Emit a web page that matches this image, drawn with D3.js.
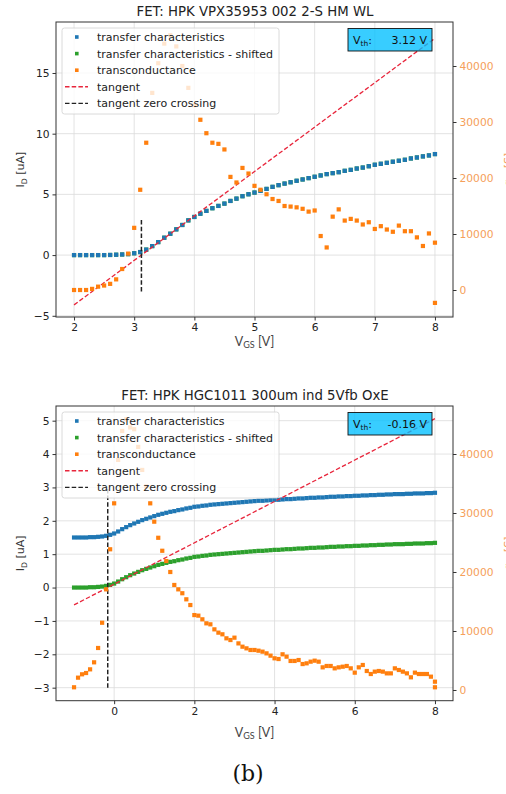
<!DOCTYPE html>
<meta charset="utf-8">
<style>
  body {
    margin: 0;
    background: #fff;
  }

  svg {
    display: block;
    font-family: "DejaVu Sans", Verdana, sans-serif;
  }

  .grid line {
    stroke: #dcdcdc;
    stroke-width: 0.8;
  }

  .frame {
    fill: none;
    stroke: #333;
    stroke-width: 1;
  }

  .legend text {
    font-size: 11px;
    fill: #222;
  }
</style>
<body>
<div id="chart"></div>
<script src="https://cdn.jsdelivr.net/npm/d3@7"></script>
<script>

var width = 506,
    height = 794;

var blue = "#1f77b4",
    green = "#2ca02c",
    orange = "#ff7f0e",
    red = "#e8263c";

// ---- top panel: HPK VPX35953 002 2-S HM WL (sweep 2 V .. 8 V, step 0.1 V)
var titleA = "FET: HPK VPX35953 002 2-S HM WL";
var vgsA = d3.range(20, 81).map(function(i) { return i / 10; });
var currentA = [
  0.00, 0.00, 0.00, 0.00, 0.00, 0.00, 0.01, 0.03, 0.05, 0.08,
  0.15, 0.25, 0.45, 0.74, 1.07, 1.43, 1.76, 2.12, 2.48, 2.86,
  3.14, 3.41, 3.64, 3.86, 4.05, 4.24, 4.46, 4.65, 4.85, 5.01,
  5.15, 5.29, 5.45, 5.62, 5.76, 5.89, 6.00, 6.12, 6.23, 6.34,
  6.45, 6.56, 6.67, 6.75, 6.83, 6.94, 7.02, 7.13, 7.21, 7.32,
  7.44, 7.52, 7.60, 7.69, 7.77, 7.85, 7.96, 8.04, 8.13, 8.21,
  8.32
];
// no offset on this sample: the shifted curve sits under the measured one
var shiftedA = currentA;
var gmVgsA = vgsA.concat([8.0]);
var gmA = [
  0, 0, 0, 200, 600, 800, 1100, 1900, 3750, 6500,
  11100, 17900, 26300, 35200, 40500, 44000, 45500, 43500, 40000, 36100,
  33000, 30400, 28000, 26300, 26100, 25100, 20200, 19200, 21800, 20800,
  18600, 17900, 17100, 16250, 15900, 15000, 14900, 14760, 14500, 14000,
  14200, 9640, 7600, 13100, 14400, 12400, 12700, 12400, 11700, 12100,
  10900, 11400, 10800, 10400, 11500, 10500, 10500, 9400, 7860, 10100,
  8450, -2300
];
var tangentVgsA = [2, 8];
var tangentA = [-4.1, 17.86];
var vthA = 3.12;
var zeroCrossA = [-3, 3];

// ---- bottom panel: HPK HGC1011 300um ind 5Vfb OxE (sweep -1 V .. 8 V, step 0.1 V)
var titleB = "FET: HPK HGC1011 300um ind 5Vfb OxE";
var vgsB = d3.range(-10, 81).map(function(i) { return i / 10; });
var currentB = [
  1.50, 1.50, 1.50, 1.50, 1.51, 1.51, 1.52, 1.53, 1.55, 1.58,
  1.62, 1.68, 1.75, 1.81, 1.87, 1.92, 1.97, 2.02, 2.06, 2.10,
  2.14, 2.18, 2.21, 2.24, 2.27, 2.29, 2.32, 2.34, 2.37, 2.39,
  2.42, 2.43, 2.45, 2.46, 2.48, 2.49, 2.50, 2.51, 2.52, 2.53,
  2.54, 2.55, 2.56, 2.57, 2.58, 2.59, 2.60, 2.60, 2.61, 2.62,
  2.63, 2.63, 2.64, 2.65, 2.65, 2.66, 2.67, 2.67, 2.68, 2.69,
  2.69, 2.70, 2.70, 2.71, 2.72, 2.72, 2.73, 2.73, 2.74, 2.74,
  2.75, 2.75, 2.76, 2.76, 2.77, 2.77, 2.78, 2.78, 2.79, 2.79,
  2.80, 2.80, 2.80, 2.81, 2.81, 2.82, 2.82, 2.82, 2.83, 2.83,
  2.84
];
var shiftedB = [
  0.00, 0.00, 0.00, 0.00, 0.01, 0.01, 0.02, 0.03, 0.05, 0.08,
  0.12, 0.18, 0.25, 0.31, 0.37, 0.42, 0.47, 0.52, 0.56, 0.60,
  0.64, 0.68, 0.71, 0.74, 0.77, 0.79, 0.82, 0.84, 0.87, 0.89,
  0.92, 0.93, 0.95, 0.96, 0.98, 0.99, 1.00, 1.01, 1.02, 1.03,
  1.04, 1.05, 1.06, 1.07, 1.08, 1.09, 1.10, 1.10, 1.11, 1.12,
  1.13, 1.13, 1.14, 1.15, 1.15, 1.16, 1.17, 1.17, 1.18, 1.19,
  1.19, 1.20, 1.20, 1.21, 1.22, 1.22, 1.23, 1.23, 1.24, 1.24,
  1.25, 1.25, 1.26, 1.26, 1.27, 1.27, 1.28, 1.28, 1.29, 1.29,
  1.30, 1.30, 1.30, 1.31, 1.31, 1.32, 1.32, 1.32, 1.33, 1.33,
  1.34
];
var gmVgsB = vgsB.concat([8.0]);
var gmB = [
  460, 2090, 2660, 2880, 3500, 4690, 7120, 11400, 17060, 23850,
  31640, 39000, 43900, 45870, 44500, 44200, 41200, 37300, 34500, 31640,
  28530, 25800, 23600, 21860, 20000, 17800, 17060, 16400, 15370, 14400,
  12700, 12600, 11980, 11300, 11130, 10280, 9720, 9440, 8760, 8470,
  8870, 7900, 7340, 7060, 6780, 6780, 6660, 6500, 6210, 5820,
  5370, 5250, 6050, 5650, 4920, 4920, 5080, 4400, 4520, 4800,
  4970, 4800, 3840, 4070, 4070, 3670, 3840, 3950, 4070, 3670,
  2940, 3840, 4240, 3220, 2710, 3110, 3220, 3110, 2820, 2820,
  3670, 3390, 3110, 2820, 2150, 2940, 2710, 2710, 2710, 2260,
  1410, 460
];
var tangentVgsB = [-1, 8];
var tangentB = [-0.52, 5.06];
var vthB = -0.16;
var zeroCrossB = [-3, 3];

var legendLabels = [
  "transfer characteristics",
  "transfer characteristics - shifted",
  "transconductance",
  "tangent",
  "tangent zero crossing"
];

var svg = d3.select("#chart").append("svg")
  .attr("width", width)
  .attr("height", height);

var left = 56, right = 453;

function pairs(xs, ys) {
  return xs.map(function(v, i) { return [v, ys[i]]; });
}

function drawPanel(p, id) {
  var x = d3.scaleLinear().domain(p.xDomain).range([left, right]);
  var y = d3.scaleLinear().domain(p.yDomain).range([p.bottom, p.top]);
  var y2 = d3.scaleLinear().domain(p.y2Domain).range([p.bottom, p.top]);

  var g = svg.append("g");

  svg.append("clipPath").attr("id", "clip" + id)
    .append("rect")
    .attr("x", left).attr("y", p.top)
    .attr("width", right - left).attr("height", p.bottom - p.top);

  // grid
  var grid = g.append("g").attr("class", "grid");
  grid.selectAll(".gx").data(p.xTicks).enter().append("line")
    .attr("x1", function(d) { return x(d); })
    .attr("x2", function(d) { return x(d); })
    .attr("y1", p.top).attr("y2", p.bottom);
  grid.selectAll(".gy").data(p.yTicks).enter().append("line")
    .attr("y1", function(d) { return y(d); })
    .attr("y2", function(d) { return y(d); })
    .attr("x1", left).attr("x2", right);

  var plot = g.append("g").attr("clip-path", "url(#clip" + id + ")");
  var s = 4.2;

  function squares(data, sc, color) {
    plot.append("g").selectAll("rect")
      .data(data).enter().append("rect")
      .attr("x", function(d) { return x(d[0]) - s / 2; })
      .attr("y", function(d) { return sc(d[1]) - s / 2; })
      .attr("width", s).attr("height", s)
      .attr("fill", color);
  }

  squares(pairs(p.vgs, p.shifted), y, green);
  squares(pairs(p.vgs, p.current), y, blue);

  var line = d3.line()
    .x(function(d) { return x(d[0]); })
    .y(function(d) { return y(d[1]); });

  plot.append("path")
    .datum(pairs(p.tangentVgs, p.tangent))
    .attr("d", line)
    .attr("fill", "none")
    .attr("stroke", red)
    .attr("stroke-width", 1.3)
    .attr("stroke-dasharray", "4.5,2.2");

  plot.append("path")
    .datum(pairs([p.vth, p.vth], p.zeroCross))
    .attr("d", line)
    .attr("fill", "none")
    .attr("stroke", "#222")
    .attr("stroke-width", 1.5)
    .attr("stroke-dasharray", "4.5,2.2");

  squares(pairs(p.gmVgs, p.gm), y2, orange);

  // frame and axes
  g.append("rect").attr("class", "frame")
    .attr("x", left).attr("y", p.top)
    .attr("width", right - left).attr("height", p.bottom - p.top);

  var ax = g.append("g")
    .attr("transform", "translate(0," + p.bottom + ")")
    .call(d3.axisBottom(x).tickValues(p.xTicks).tickSize(3.5).tickPadding(3).tickFormat(d3.format("d")));
  var ay = g.append("g")
    .attr("transform", "translate(" + left + ",0)")
    .call(d3.axisLeft(y).tickValues(p.yTicks).tickSize(3.5).tickPadding(3).tickFormat(d3.format("d")));
  var ay2 = g.append("g")
    .attr("transform", "translate(" + right + ",0)")
    .call(d3.axisRight(y2).tickValues(p.y2Ticks).tickSize(3.5).tickPadding(3).tickFormat(d3.format("d")));

  [ax, ay, ay2].forEach(function(a) {
    a.select(".domain").remove();
    a.selectAll(".tick line").attr("stroke", "#333");
    a.selectAll(".tick text").attr("fill", "#222")
      .style("font-family", "DejaVu Sans").style("font-size", "10.7px");
  });
  ay2.selectAll(".tick text").attr("fill", "#f5a05a");

  // titles and labels
  svg.append("text")
    .attr("x", (left + right) / 2 + 0.5).attr("y", p.top - 6.3)
    .attr("text-anchor", "middle")
    .style("font-size", "13.3px").attr("fill", "#222")
    .text(p.title);

  var yl = svg.append("text")
    .attr("transform", "translate(24," + (p.top + p.bottom) / 2 + ") rotate(-90)")
    .attr("text-anchor", "middle")
    .style("font-size", "11px").attr("fill", "#333");
  yl.append("tspan").text("I");
  yl.append("tspan").attr("dy", 2.5).style("font-size", "7.7px").text("D");
  yl.append("tspan").attr("dy", -2.5).text(" [uA]");

  var y2l = svg.append("text")
    .attr("transform", "translate(512," + (p.top + p.bottom) / 2 + ") rotate(-90)")
    .attr("text-anchor", "middle")
    .style("font-size", "11px").attr("fill", "#f5a05a");
  y2l.append("tspan").text("g");
  y2l.append("tspan").attr("dy", 2.5).style("font-size", "7.7px").text("m");
  y2l.append("tspan").attr("dy", -2.5).text(" [S]");

  var xl = svg.append("text")
    .attr("x", (left + right) / 2).attr("y", p.xLabelY)
    .attr("text-anchor", "middle")
    .style("font-family", "Lato, 'Open Sans', sans-serif")
    .style("font-size", "12.5px").attr("fill", "#444");
  xl.append("tspan").text("V");
  xl.append("tspan").style("font-size", "9px").attr("dy", 1.5).text("GS");
  xl.append("tspan").attr("dy", -1.5).text(" [V]");

  // legend
  var lg = svg.append("g").attr("class", "legend");
  lg.append("rect")
    .attr("x", 62).attr("y", p.top + 6)
    .attr("width", 217).attr("height", 86)
    .attr("rx", 2.5)
    .attr("fill", "#fff").attr("fill-opacity", 0.8)
    .attr("stroke", "#d0d0d0").attr("stroke-width", 0.8);

  var kinds = [
    { color: blue, mark: true },
    { color: green, mark: true },
    { color: orange, mark: true },
    { color: red, mark: false },
    { color: "#222", mark: false }
  ];
  var row = lg.selectAll(".row").data(legendLabels).enter().append("g")
    .attr("transform", function(d, i) { return "translate(0," + (p.top + 15 + i * 16.6) + ")"; });
  row.each(function(d, i) {
    var r = d3.select(this);
    if (kinds[i].mark) {
      r.append("rect").attr("x", 75).attr("y", -1.8).attr("width", 3.6).attr("height", 3.6)
        .attr("fill", kinds[i].color);
    } else {
      r.append("line").attr("x1", 65).attr("x2", 88).attr("y1", 0).attr("y2", 0)
        .attr("stroke", kinds[i].color).attr("stroke-width", 1.4)
        .attr("stroke-dasharray", "4.5,2.2");
    }
  });
  row.append("text").attr("x", 97).attr("y", 4).text(function(d) { return d; });

  // threshold box
  var bx = svg.append("g");
  bx.append("rect")
    .attr("x", 348).attr("y", p.top + 6.5)
    .attr("width", 84).attr("height", 22.5)
    .attr("fill", "#00bfff").attr("fill-opacity", 0.78)
    .attr("stroke", "#111").attr("stroke-width", 0.9);
  var vt = bx.append("text").attr("x", 353).attr("y", p.top + 22)
    .style("font-size", "11px").attr("fill", "#111");
  vt.append("tspan").text("V");
  vt.append("tspan").attr("dy", 2).style("font-size", "7.5px").text("th");
  vt.append("tspan").attr("dy", -2).text(":");
  bx.append("text").attr("x", 427).attr("y", p.top + 22)
    .attr("text-anchor", "end")
    .style("font-size", "11px").attr("fill", "#111")
    .text(d3.format(".2f")(p.vth).replace("\u2212", "-") + " V");
}

drawPanel({
  title: titleA,
  top: 22, bottom: 317, xLabelY: 346,
  xDomain: [1.7, 8.3], yDomain: [-5.1, 19.2], y2Domain: [-4820, 47860],
  xTicks: [2, 3, 4, 5, 6, 7, 8], yTicks: [-5, 0, 5, 10, 15], y2Ticks: [0, 10000, 20000, 30000, 40000],
  vgs: vgsA, current: currentA, shifted: shiftedA,
  gmVgs: gmVgsA, gm: gmA,
  tangentVgs: tangentVgsA, tangent: tangentA,
  vth: vthA, zeroCross: zeroCrossA
}, "a");

drawPanel({
  title: titleB,
  top: 406, bottom: 700.7, xLabelY: 737,
  xDomain: [-1.45, 8.45], yDomain: [-3.39, 5.44], y2Domain: [-1814, 48136],
  xTicks: [0, 2, 4, 6, 8], yTicks: [-3, -2, -1, 0, 1, 2, 3, 4, 5], y2Ticks: [0, 10000, 20000, 30000, 40000],
  vgs: vgsB, current: currentB, shifted: shiftedB,
  gmVgs: gmVgsB, gm: gmB,
  tangentVgs: tangentVgsB, tangent: tangentB,
  vth: vthB, zeroCross: zeroCrossB
}, "b");

svg.append("text")
  .attr("x", 248).attr("y", 781)
  .attr("text-anchor", "middle")
  .style("font-family", "'DejaVu Serif', 'Liberation Serif', serif")
  .style("font-size", "22px").attr("fill", "#111")
  .text("(b)");

</script>
</body>
